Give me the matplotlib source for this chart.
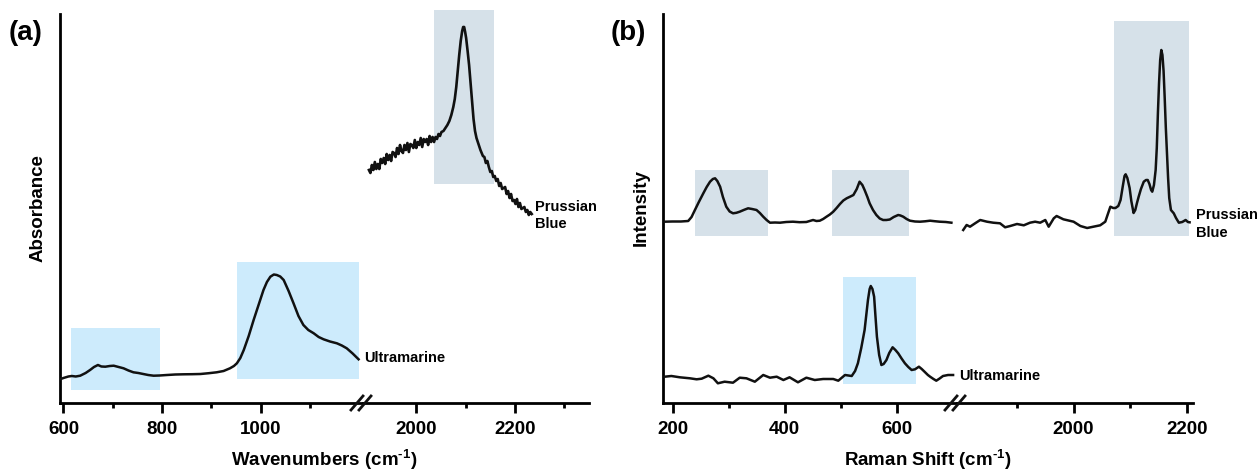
import matplotlib
matplotlib.use("Agg")
import matplotlib.pyplot as plt
from matplotlib.lines import Line2D
from matplotlib.patches import Rectangle
from matplotlib.ticker import FixedLocator

plt.rcParams['font.family'] = ['Liberation Sans', 'DejaVu Sans']
plt.rcParams['mathtext.fontset'] = 'custom'
plt.rcParams['mathtext.rm'] = 'Liberation Sans:bold'
plt.rcParams['mathtext.bf'] = 'Liberation Sans:bold'

# ---------------- data: (a) FTIR ----------------
ir_ultra_x = [593, 600, 610, 617, 625, 634, 645, 654, 662, 670, 677, 685, 694, 702, 712,
              722, 732, 742, 752, 762, 772, 783, 795, 810, 827, 844, 861, 878, 895, 911,
              925, 938, 946, 952, 959, 966, 976, 986, 996, 1006, 1013, 1020, 1027, 1033,
              1040, 1047, 1057, 1067, 1077, 1087, 1097, 1108, 1118, 1128, 1141, 1155,
              1165, 1175, 1187, 1199]
ir_ultra_y = [23.7, 25, 26.5, 27, 26.5, 27.3, 30, 33, 36, 38, 36.5, 36.3, 37, 37.3, 36,
              34.7, 32.5, 30.7, 30, 29, 28, 27.3, 27.5, 28, 28.5, 28.7, 28.8, 29, 29.8,
              30.7, 32, 34.7, 37, 39.7, 45, 53, 67, 83, 98, 113, 121, 126.3, 128.5, 128,
              126.5, 123, 112, 99.7, 87, 78, 73, 69.7, 66, 63.7, 61.5, 59.7,
              57.5, 54.7, 49.5, 43.7]

ir_pb_x = [1904, 1907, 1910, 1913, 1916, 1919, 1922, 1925, 1928, 1931, 1934, 1937, 1940,
           1943, 1946, 1949, 1952, 1955, 1958, 1961, 1964, 1967, 1970, 1973, 1976, 1979,
           1982, 1985, 1988, 1991, 1994, 1997, 2000, 2003, 2006, 2009, 2012, 2015, 2018,
           2021, 2024, 2027, 2030, 2033, 2036, 2039, 2042, 2045, 2048, 2051, 2055, 2059,
           2063, 2067, 2071, 2075, 2078, 2081, 2084, 2087, 2090, 2093, 2095, 2097, 2099,
           2101, 2104, 2107, 2110, 2113, 2116, 2119, 2122, 2126, 2130, 2135, 2138, 2141,
           2144, 2147, 2150, 2153, 2156, 2159, 2162, 2165, 2168, 2171, 2174, 2177, 2180,
           2183, 2186, 2189, 2192, 2195, 2198, 2201, 2204, 2207, 2210, 2213, 2216, 2219,
           2222, 2225, 2228, 2231, 2234]
ir_pb_y = [233, 230, 238, 233, 241, 234, 239, 234, 244, 240, 245, 239, 249,
           243, 248, 242, 251, 250, 246, 255, 249, 258, 252, 250, 258, 253,
           260, 251, 259, 258, 255, 263, 255, 261, 258, 265, 256, 264, 261,
           264, 258, 267, 261, 266, 261, 266, 264, 269, 267, 271, 272, 275,
           278, 282, 288, 296, 304, 316, 332, 348, 362, 372, 376, 376, 371,
           365, 352, 338, 320, 302, 284, 272, 265, 259, 253, 247, 246, 240,
           242, 236, 231, 232, 226, 227, 222, 224, 217, 220, 214, 215, 216,
           209, 212, 205, 209, 202, 203, 199, 204, 196, 200, 194, 195, 196,
           191, 193, 188, 191, 189]

# ---------------- data: (b) Raman ----------------
ra_pb_left_x = [186, 200, 215, 228, 234, 240, 247, 255, 261, 267, 272, 276, 280, 285, 290,
                296, 302, 308, 314, 320, 328, 335, 342, 350, 356, 362, 368, 374, 383, 392,
                403, 415, 427, 439, 451, 457, 463, 469, 475, 481, 487, 493, 499, 505, 511,
                517, 523, 529, 534, 539, 543, 548, 552, 558, 564, 570, 576, 582, 588, 595,
                603, 607, 612, 618, 624, 633, 642, 651, 660, 668, 677, 688, 698]
ra_pb_left_y = [181.3, 181.5, 181.5, 182, 186, 193, 201, 209.7, 216, 221.3, 224, 224.7,
                222, 216.3, 206, 196.3, 191.5, 189.7, 190.2, 191.3, 193.2, 194.7, 194,
                193, 190, 186.3, 183, 180.3, 180.5, 180.3, 181, 181.3, 180.8, 181, 183,
                182, 182.3, 184, 186.3, 188.5, 191.3, 195, 199, 202.5, 204.7, 206.3, 208,
                214, 221.3, 218, 213, 206, 199.7, 193, 188, 184.5, 183, 183, 183.5, 186,
                188, 187.5, 186.3, 184, 182.3, 181.5, 181.3, 181.7, 182.3, 181.8, 181.3,
                181, 180.3]

ra_pb_right_x = [1805, 1811, 1817, 1826, 1835, 1847, 1858, 1870, 1879, 1888, 1900,
                 1912, 1923, 1932, 1941, 1950, 1956, 1965, 1970, 1982, 2000, 2012,
                 2024, 2035, 2047, 2056, 2060, 2065, 2070, 2074, 2079, 2083, 2087, 2090,
                 2092, 2095, 2099, 2102, 2106, 2109, 2112, 2115, 2119, 2124, 2128, 2131,
                 2134, 2137, 2139, 2142, 2145, 2147, 2149, 2151, 2153, 2155, 2157, 2159,
                 2161, 2163, 2165, 2167, 2169, 2172, 2177, 2181, 2186, 2192, 2198, 2202,
                 2205]
ra_pb_right_y = [173, 178, 176.3, 179.7, 183, 181.3, 180.3, 179.7, 175.7, 177, 179,
                 177.7, 180.3, 181.3, 180.3, 183, 176.3, 184.7, 187, 183.7, 181.3, 177,
                 175, 176.3, 177.7, 181.3, 188, 196.3, 195, 195, 197, 203, 217, 227,
                 228.7, 225, 215, 202, 190, 193, 200, 206.3, 214, 221.3, 223, 223,
                 219, 213, 211.3, 218, 233, 255, 290, 320, 343, 353, 348, 332,
                 305, 275, 250, 225, 205, 193, 189.7, 185, 180.3, 181, 183, 181,
                 180.7]

ra_ultra_x = [186, 198, 213, 231, 243, 252, 264, 273, 281, 293, 308, 320, 332, 347,
              362, 374, 386, 398, 409, 424, 439, 454, 469, 487, 496, 508, 520, 526, 531,
              537, 543, 546, 549, 552, 554, 557, 560, 562, 565, 569, 573, 577, 582, 587,
              593, 598, 603, 609, 615, 621, 627, 633, 640, 645, 650, 656, 660, 666, 671,
              677, 683, 692, 701]
ra_ultra_y = [26.3, 27, 25.7, 24.7, 23.7, 24.3, 27.3, 24.7, 19.7, 21.3, 20.3, 25.3,
              24.7, 21.3, 28, 25.3, 26.3, 23, 25.7, 20.7, 25.3, 23, 24, 24, 22.3, 28,
              27, 32, 39.7, 55, 73, 88, 103, 114, 117, 114, 106.3, 90, 66.3, 48, 38,
              39, 43, 50, 55.7, 53, 49.7, 44.5, 39.7, 36, 33, 33.7, 36.3, 34, 31.3, 28,
              26.3, 24, 22.3, 24.5, 27, 28, 28]

# highlight boxes: (x0, x1, y0, y1)
a_boxes_blue = [(616, 795, 13, 75.3), (952, 1199, 24, 140.7)]
a_boxes_gray = [(2035, 2158, 219, 393)]
b_boxes_gray_left = [(240, 370, 167, 233), (484, 622, 167, 233)]
b_boxes_gray_right = [(2072, 2204, 167, 382)]
b_boxes_blue = [(504, 634, 19, 126.3)]

LIGHT_BLUE = '#CDEBFC'
GRAY_BLUE = '#D6E1E9'
LINE = '#111111'

W, H = 1258, 471
fig = plt.figure(figsize=(W / 100, H / 100), dpi=100)


def fx(px):
    return px / W


def add_pair(x_left, x_mid, x_right, y_top, y_bot, xlim_l, xlim_r):
    b = (H - y_bot) / H
    h = (y_bot - y_top) / H
    axl = fig.add_axes([fx(x_left), b, fx(x_mid - x_left), h])
    axr = fig.add_axes([fx(x_mid), b, fx(x_right - x_mid), h])
    for ax, xl in ((axl, xlim_l), (axr, xlim_r)):
        ax.set_xlim(*xl)
        ax.set_ylim(0, 389)
        ax.patch.set_visible(False)
        for s in ('top', 'right'):
            ax.spines[s].set_visible(False)
        ax.spines['bottom'].set_linewidth(2)
        ax.spines['left'].set_linewidth(2)
        ax.set_yticks([])
        ax.tick_params(axis='x', which='major', length=7, width=2, direction='out',
                       labelsize=13.5, pad=6)
        ax.tick_params(axis='x', which='minor', length=3.5, width=2, direction='out')
    axr.spines['left'].set_visible(False)
    # break marks
    for dx in (-6, 2):
        xc = x_mid + dx
        fig.add_artist(Line2D([fx(xc - 6), fx(xc + 6)],
                              [(H - y_bot - 7) / H, (H - y_bot + 7) / H],
                              color=LINE, lw=2, transform=fig.transFigure))
    return axl, axr


def set_ticks(ax, major, minor):
    ax.xaxis.set_major_locator(FixedLocator(major))
    ax.xaxis.set_minor_locator(FixedLocator(minor))
    for lab in ax.get_xticklabels():
        lab.set_fontweight('bold')


def box(ax, b, color):
    ax.add_patch(Rectangle((b[0], b[2]), b[1] - b[0], b[3] - b[2], facecolor=color,
                           edgecolor='none', zorder=0, clip_on=False))


XLABEL_SUP = r'$^{\text{-1}}$)'

# ---------- panel (a) ----------
a1, a2 = add_pair(60, 363, 589, 14, 403, (593, 1208), (1892, 2350))
set_ticks(a1, [600, 800, 1000], [700, 900, 1100])
set_ticks(a2, [2000, 2200], [2100, 2300])
for bx in a_boxes_blue:
    box(a1, bx, LIGHT_BLUE)
for bx in a_boxes_gray:
    box(a2, bx, GRAY_BLUE)
a1.plot(ir_ultra_x, ir_ultra_y, color=LINE, lw=1.8, zorder=3)
a2.plot(ir_pb_x, ir_pb_y, color=LINE, lw=1.9, zorder=3)
a1.text(1211, 45, 'Ultramarine', fontsize=10.5, fontweight='bold', ha='left',
        va='center')
a2.text(2240, 187.5, 'Prussian\nBlue', fontsize=10.5, fontweight='bold', ha='left',
        va='center', linespacing=1.35)
fig.text(fx(324.5), 1 - 460 / H, 'Wavenumbers (cm' + XLABEL_SUP, fontsize=13.5,
         fontweight='bold', ha='center', va='center')
fig.text(fx(38), 1 - 208 / H, 'Absorbance', fontsize=13.5, fontweight='bold',
         rotation=90, ha='center', va='center')
fig.text(fx(26), 1 - 33 / H, '(a)', fontsize=20, fontweight='bold', ha='center',
         va='center')

# ---------- panel (b) ----------
b1, b2 = add_pair(663, 957, 1193, 14, 403, (183, 708), (1794, 2211))
set_ticks(b1, [200, 400, 600], [300, 500])
set_ticks(b2, [2000, 2200], [1900, 2100])
for bx in b_boxes_gray_left:
    box(b1, bx, GRAY_BLUE)
for bx in b_boxes_blue:
    box(b1, bx, LIGHT_BLUE)
for bx in b_boxes_gray_right:
    box(b2, bx, GRAY_BLUE)
b1.plot(ra_pb_left_x, ra_pb_left_y, color=LINE, lw=1.8, zorder=3)
b2.plot(ra_pb_right_x, ra_pb_right_y, color=LINE, lw=1.8, zorder=3)
b1.plot(ra_ultra_x, ra_ultra_y, color=LINE, lw=1.8, zorder=3)
b1.text(711, 27, 'Ultramarine', fontsize=10.5, fontweight='bold', ha='left',
        va='center', clip_on=False)
b2.text(2217, 179.3, 'Prussian\nBlue', fontsize=10.5, fontweight='bold', ha='left',
        va='center', linespacing=1.35)
fig.text(fx(928), 1 - 460 / H, 'Raman Shift (cm' + XLABEL_SUP, fontsize=13.5,
         fontweight='bold', ha='center', va='center')
fig.text(fx(641), 1 - 208 / H, 'Intensity', fontsize=13.5, fontweight='bold',
         rotation=90, ha='center', va='center')
fig.text(fx(628), 1 - 33 / H, '(b)', fontsize=20, fontweight='bold', ha='center',
         va='center')

fig.savefig('out.png', dpi=100)
